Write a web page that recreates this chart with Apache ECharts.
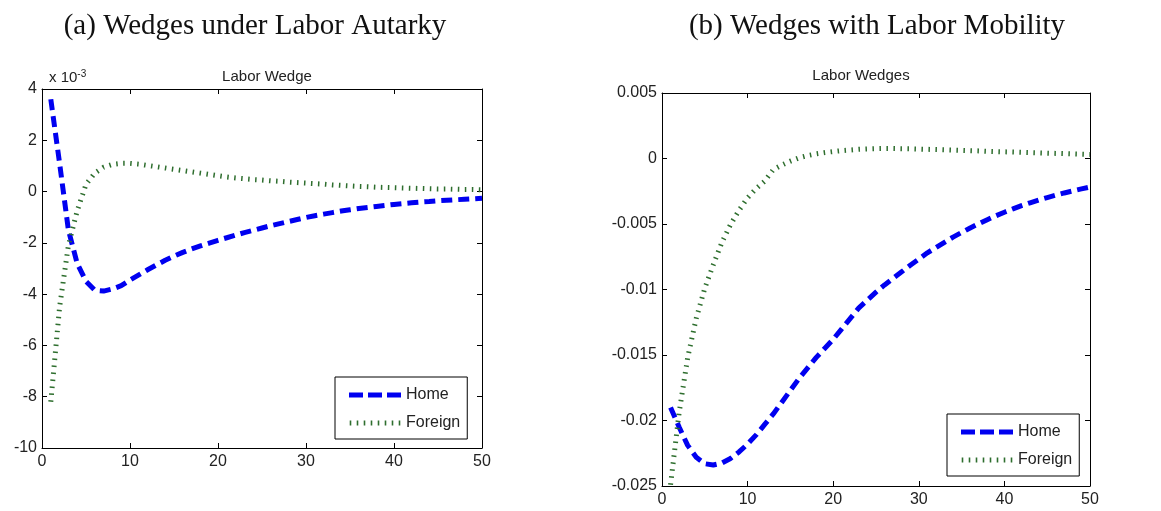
<!DOCTYPE html>
<html><head><meta charset="utf-8">
<script src="https://cdn.jsdelivr.net/npm/echarts@6/dist/echarts.min.js"></script>
<style>html,body{margin:0;padding:0;background:#fff}#c{width:1161px;height:511px}</style>
</head><body><div id="c"></div>
<script>
// Periods (x axis)
const periods = [1,2,3,4,5,6,7,8,9,10,11,12,13,14,15,16,17,18,19,20,21,22,23,24,25,26,27,28,29,30,31,32,33,34,35,36,37,38,39,40,41,42,43,44,45,46,47,48,49,50];
// (a) Labor autarky, values in units of 1e-3
const homeA = [3.6,1.1,-1.5,-2.8,-3.5,-3.85,-3.88,-3.8,-3.67,-3.45,-3.25,-3.05,-2.86,-2.68,-2.52,-2.37,-2.24,-2.12,-2.01,-1.9,-1.8,-1.7,-1.6,-1.51,-1.42,-1.33,-1.25,-1.17,-1.09,-1.01,-0.94,-0.88,-0.82,-0.76,-0.71,-0.66,-0.62,-0.58,-0.54,-0.5,-0.47,-0.44,-0.41,-0.39,-0.36,-0.34,-0.32,-0.3,-0.28,-0.26];
const foreignA = [-8.2,-4.5,-2.1,-0.75,0.28,0.72,0.95,1.06,1.1,1.1,1.07,1.02,0.97,0.92,0.87,0.82,0.77,0.72,0.67,0.62,0.57,0.53,0.5,0.47,0.45,0.42,0.4,0.37,0.35,0.33,0.31,0.29,0.26,0.24,0.22,0.2,0.19,0.17,0.16,0.15,0.14,0.13,0.12,0.11,0.1,0.1,0.09,0.08,0.08,0.07];
// (b) Labor mobility
const homeB = [-0.019,-0.0205,-0.0219,-0.0228,-0.0233,-0.0234,-0.02325,-0.0229,-0.0224,-0.0218,-0.0211,-0.0203,-0.0195,-0.0186,-0.0177,-0.0168,-0.016,-0.0152,-0.0145,-0.0138,-0.013,-0.0122,-0.0114,-0.0108,-0.0102,-0.00965,-0.00915,-0.00865,-0.00815,-0.00768,-0.0072,-0.0068,-0.0064,-0.006,-0.00565,-0.0053,-0.00498,-0.00467,-0.00437,-0.0041,-0.00385,-0.0036,-0.00338,-0.00317,-0.00298,-0.0028,-0.00263,-0.00247,-0.00232,-0.00218];
const foreignB = [-0.0249,-0.0194,-0.0152,-0.0122,-0.0099,-0.0081,-0.0064,-0.00505,-0.00395,-0.003,-0.0023,-0.00172,-0.00085,-0.0005,-0.0002,0.00005,0.00022,0.00035,0.00045,0.00053,0.0006,0.00065,0.0007,0.00073,0.00075,0.00076,0.00076,0.00075,0.00074,0.00072,0.0007,0.00068,0.00066,0.00064,0.00062,0.0006,0.00058,0.00055,0.00053,0.00051,0.00049,0.00047,0.00045,0.00043,0.00041,0.00039,0.00037,0.00035,0.00033,0.00031];
const xTicks = {min:0, max:50, interval:10};
const yTicksA = {min:-10, max:4, interval:2};
const yTicksB = {min:-0.025, max:0.005, interval:0.005};
const seriesNames = ['Home','Foreign'];
const titles = ['(a) Wedges under Labor Autarky','(b) Wedges with Labor Mobility'];
const subTitles = ['Labor Wedge','Labor Wedges'];

const FONT = '"Liberation Sans", Arial, sans-serif';
const TXT = '#222';
const HOME_C = '#0000f0', FOR_C = '#2e6e2e';
const pair = arr => arr.map((v,i)=>[periods[i], v]);

const grids = [
  {left:42, top:89, width:440, height:359},
  {left:662, top:93, width:428, height:393}
];
function xAxes(gi){
  const base = {type:'value', gridIndex:gi, min:xTicks.min, max:xTicks.max, interval:xTicks.interval,
    splitLine:{show:false}, axisLine:{show:true, onZero:false, lineStyle:{color:'#000', width:1}},
    axisTick:{show:true, inside:true, length:5, lineStyle:{color:'#000'}}};
  return [
    Object.assign({}, base, {position:'bottom', axisLabel:{show:true, color:TXT, fontFamily:FONT, fontSize:16, margin:6}}),
    Object.assign({}, base, {position:'top', axisLabel:{show:false}})
  ];
}
function yAxes(gi, t, fmt){
  const base = {type:'value', gridIndex:gi, min:t.min, max:t.max, interval:t.interval,
    splitLine:{show:false}, axisLine:{show:true, onZero:false, lineStyle:{color:'#000', width:1}},
    axisTick:{show:true, inside:true, length:5, lineStyle:{color:'#000'}}};
  return [
    Object.assign({}, base, {position:'left', axisLabel:{show:true, color:TXT, fontFamily:FONT, fontSize:16, margin:5, formatter:fmt}}),
    Object.assign({}, base, {position:'right', axisLabel:{show:false}})
  ];
}
const homeStyle = {color:HOME_C, width:5, type:[11,6], cap:'butt'};
const forStyle = {color:FOR_C, width:5, type:[1.5,5.5], cap:'butt'};
function mk(name, data, xi, yi, st){
  return {name, type:'line', xAxisIndex:xi, yAxisIndex:yi, data, symbol:'none', showSymbol:false,
    lineStyle:st, itemStyle:{color:st.color}, animation:false, z:3};
}
const homeIcon = 'path://M0 0h14v5H0z M19 0h14v5H19z M38 0h14v5H38z';
const forIcon = 'path://M0 0h1.6v5H0z M7 0h1.6v5H7z M14 0h1.6v5H14z M21 0h1.6v5H21z M28 0h1.6v5H28z M35 0h1.6v5H35z M42 0h1.6v5H42z M49 0h1.6v5H49z';
const legendData = [
  {name:seriesNames[0], icon:homeIcon, itemStyle:{color:HOME_C, borderWidth:0}},
  {name:seriesNames[1], icon:forIcon, itemStyle:{color:FOR_C, borderWidth:0}}
];
const legendBase = {orient:'vertical', itemWidth:52, itemHeight:5, itemGap:12, padding:[10,7,8,14],
  borderColor:'#000', borderWidth:1, backgroundColor:'#fff',
  textStyle:{fontFamily:FONT, fontSize:16, color:TXT, padding:[0,0,0,0]}, data:legendData, selectedMode:false};

const chart = echarts.init(document.getElementById('c'), null, {renderer:'canvas'});
chart.setOption({
  backgroundColor:'#fff',
  animation:false,
  title:[
    {text:titles[0], left:250, top:7, textAlign:'center', textStyle:{fontFamily:'"Liberation Serif", serif', fontSize:29, fontWeight:'normal', color:'#111'}},
    {text:titles[1], left:872, top:7, textAlign:'center', textStyle:{fontFamily:'"Liberation Serif", serif', fontSize:29, fontWeight:'normal', color:'#111'}},
    {text:subTitles[0], left:262, top:64, textAlign:'center', textStyle:{fontFamily:FONT, fontSize:15, fontWeight:'normal', color:TXT}},
    {text:subTitles[1], left:856, top:63, textAlign:'center', textStyle:{fontFamily:FONT, fontSize:15, fontWeight:'normal', color:TXT}},
    {text:'x 10{s|-3}', left:44, top:64, textStyle:{fontFamily:FONT, fontSize:15, fontWeight:'normal', color:TXT,
      rich:{s:{fontFamily:FONT, fontSize:10, color:TXT, verticalAlign:'top', padding:[0,0,8,0]}}}}
  ],
  grid:grids,
  xAxis:[...xAxes(0), ...xAxes(1)],
  yAxis:[...yAxes(0, yTicksA, v=>String(v)), ...yAxes(1, yTicksB, v=>String(+v.toFixed(3)))],
  legend:[
    Object.assign({}, legendBase, {left:335, top:377}),
    Object.assign({}, legendBase, {left:947, top:414})
  ],
  series:[
    mk(seriesNames[0], pair(homeA), 0, 0, homeStyle),
    mk(seriesNames[1], pair(foreignA), 0, 0, forStyle),
    mk(seriesNames[0], pair(homeB), 2, 2, homeStyle),
    mk(seriesNames[1], pair(foreignB), 2, 2, forStyle)
  ]
});
</script></body></html>
